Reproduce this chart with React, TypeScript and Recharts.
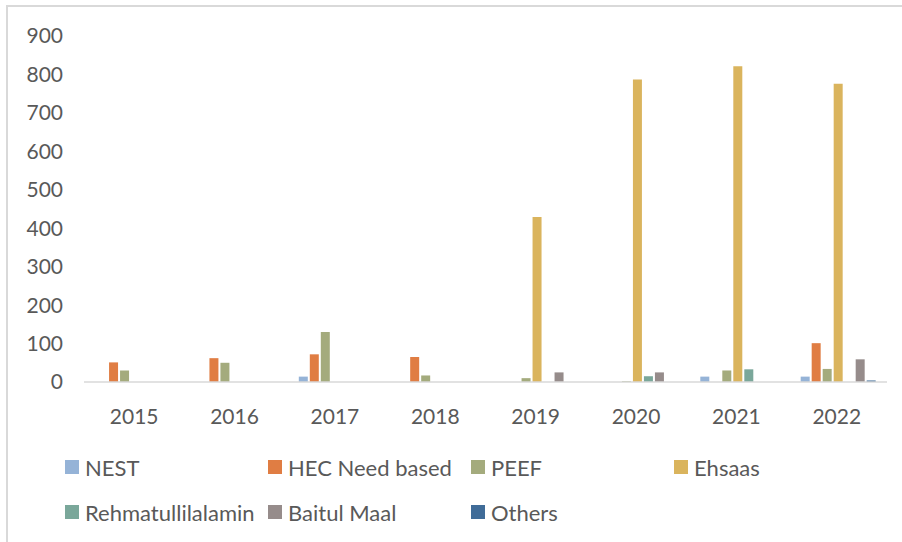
import React from "react";
import { BarChart, Bar, XAxis, YAxis } from "recharts";

const years = ["2015", "2016", "2017", "2018", "2019", "2020", "2021", "2022"];
const nest = [0, 0, 14, 0, 0, 0, 14, 14];
const hec = [51, 62, 72, 65, 0, 0, 0, 101];
const peef = [30, 50, 130, 17, 10, 2, 30, 34];
const ehsaas = [0, 0, 0, 0, 429, 787, 821, 776];
const rehmat = [0, 0, 0, 0, 0, 15, 33, 0];
const baitul = [0, 0, 0, 0, 25, 25, 0, 59];
const others = [0, 0, 0, 0, 0, 0, 0, 4];
const yTicks = [0, 100, 200, 300, 400, 500, 600, 700, 800, 900];

const series = [
  { key: "NEST", values: nest, color: "#95b3d7" },
  { key: "HEC Need based", values: hec, color: "#e07d43" },
  { key: "PEEF", values: peef, color: "#a4ab7d" },
  { key: "Ehsaas", values: ehsaas, color: "#dab45d" },
  { key: "Rehmatullilalamin", values: rehmat, color: "#7aa79a" },
  { key: "Baitul Maal", values: baitul, color: "#968c8b" },
  { key: "Others", values: others, color: "#406c98" },
];

const data = years.map((y, i) => {
  const row: Record<string, string | number> = { year: y };
  series.forEach((s) => {
    row[s.key] = s.values[i];
  });
  return row;
});

const FONT = "Lato, 'Liberation Sans', sans-serif";
const TEXT = "#595959";

export default function App() {
  return (
    <div
      style={{
        position: "absolute",
        left: 0,
        top: 0,
        width: 902,
        height: 542,
        background: "#fff",
        fontFamily: FONT,
      }}
    >
      <div
        style={{
          position: "absolute",
          left: 6,
          top: 5,
          width: 896,
          height: 537,
          borderTop: "2px solid #d9d9d9",
          borderLeft: "2px solid #d9d9d9",
        }}
      />
      <div style={{ position: "absolute", left: 0, top: 0 }}>
        <BarChart
          width={902}
          height={430}
          data={data}
          margin={{ top: 36, right: 15, bottom: 8, left: 0 }}
          barCategoryGap="14%"
          barGap={2}
        >
          <XAxis
            dataKey="year"
            axisLine={{ stroke: "#d9d9d9", strokeWidth: 1.5 }}
            tickLine={false}
            tick={{ fill: TEXT, fontSize: 21, fontFamily: FONT }}
            tickMargin={21}
            height={40}
          />
          <YAxis
            domain={[0, 900]}
            ticks={yTicks}
            width={84}
            axisLine={false}
            tickLine={false}
            tickSize={0}
            tickMargin={21}
            interval={0}
            tick={{ fill: TEXT, fontSize: 21, fontFamily: FONT }}
          />
          {series.map((s) => (
            <Bar
              key={s.key}
              dataKey={s.key}
              fill={s.color}
              isAnimationActive={false}
            />
          ))}
        </BarChart>
      </div>
      <div
        style={{
          position: "absolute",
          left: 65,
          top: 453,
          display: "grid",
          gridTemplateColumns: "203px 203px 203px 203px",
          rowGap: 17,
          color: TEXT,
          fontSize: 22,
          fontFamily: FONT,
        }}
      >
        {series.map((s) => (
          <div
            key={s.key}
            style={{ display: "flex", alignItems: "center", height: 28, whiteSpace: "nowrap" }}
          >
            <span
              style={{
                display: "inline-block",
                width: 14,
                height: 14,
                background: s.color,
                marginRight: 6,
                flexShrink: 0,
              }}
            />
            <span>{s.key}</span>
          </div>
        ))}
      </div>
    </div>
  );
}
